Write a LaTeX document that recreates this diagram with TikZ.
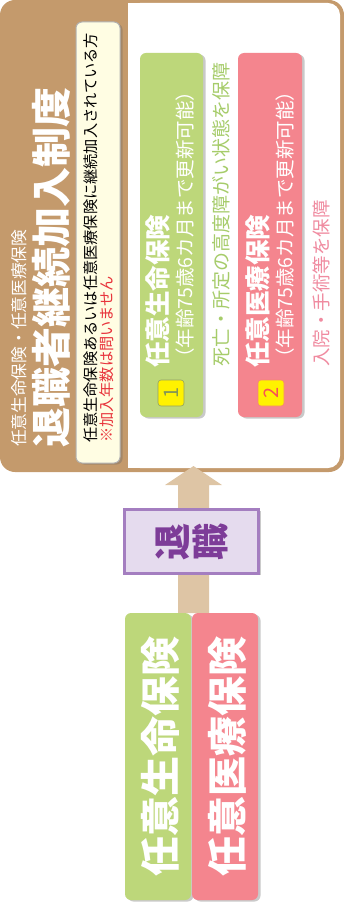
\documentclass[tikz,border=0pt]{standalone}
\usepackage{fontspec}
\newfontfamily\jp{Noto Sans CJK JP}
\usetikzlibrary{shadows}
\definecolor{brownc}{HTML}{C49A6C}
\definecolor{creamc}{HTML}{FFFDE3}
\definecolor{greenc}{HTML}{BDD77A}
\definecolor{pinkc}{HTML}{F4858E}
\definecolor{greentxt}{HTML}{A6CC6A}
\definecolor{pinktxt}{HTML}{F08BA0}
\definecolor{arrowc}{HTML}{DEC5A5}
\definecolor{lavc}{HTML}{E5DBEE}
\definecolor{lavborder}{HTML}{A47EC0}
\definecolor{purpletxt}{HTML}{7D3C98}
\definecolor{badgey}{HTML}{FFF200}
\definecolor{redtxt}{HTML}{E8343C}
\tikzset{
  vtext/.style={rotate=90, inner sep=0pt, anchor=west, font=\jp},
  shadowed/.style={drop shadow={shadow xshift=2.5pt, shadow yshift=-1.5pt, opacity=0.35, fill=black!60}},
  insbox/.style={rounded corners=6pt, shadowed},
  badge/.style={rounded corners=3pt, fill=badgey, inner sep=0pt, minimum width=26pt, minimum height=26pt, rotate=90, font=\jp\fontsize{20}{20}\selectfont},
}
\begin{document}
\begin{tikzpicture}[x=1pt,y=-1pt]
\useasboundingbox (0,0) rectangle (344,917);
% top panel
\fill[brownc, rounded corners=15pt] (0,0) rectangle (344,472);
\fill[white, rounded corners=12pt] (128,3) rectangle (340,468);
\fill[white] (128,3) rectangle (150,468);
\node[vtext, text=white, font=\jp\fontsize{16.7}{17}\selectfont] (sub) at (19,447) {任意生命保険・任意医療保険};
\node[vtext, text=white, font=\jp\bfseries\fontsize{40}{40}\selectfont] (title) at (51,448) {退職者継続加入制度};
\node[draw=black!30, line width=1pt, fill=creamc, rounded corners=6pt, minimum width=441pt, minimum height=44pt, rotate=90, shadowed] (cream) at (98,242.5) {};
\node[vtext, text=black, font=\jp\fontsize{15.2}{15}\selectfont] (cond) at (91,443) {任意生命保険あるいは任意医療保険に継続加入されている方};
\node[vtext, text=redtxt, font=\jp\fontsize{15.2}{15}\selectfont] (note) at (107,443) {※加入年数は問いません};
% inner boxes
\fill[greenc, insbox] (140,53) rectangle (203,417);
\fill[pinkc, insbox] (238,53) rectangle (302,417);
\node[badge, draw=greenc!70!black!90, line width=0.6pt, text=greenc!70!black] (b1) at (171,393) {1};
\node[badge, draw=pinkc!80!orange, line width=0.6pt, text=pinkc!60!red] (b2) at (271,393) {2};
\node[vtext, text=white, font=\jp\bfseries\fontsize{25.5}{26}\selectfont] (t1) at (158,368) {任意生命保険};
\node[vtext, text=white, font=\jp\fontsize{19.5}{20}\selectfont] (s1) at (185,368) {（年齢75歳6カ月まで更新可能）};
\node[vtext, text=greentxt, font=\jp\fontsize{19}{19}\selectfont] (d1) at (221,367) {死亡・所定の高度障がい状態を保障};
\node[vtext, text=white, font=\jp\bfseries\fontsize{25.5}{26}\selectfont] (t2) at (258,368) {任意医療保険};
\node[vtext, text=white, font=\jp\fontsize{19.5}{20}\selectfont] (s2) at (285,368) {（年齢75歳6カ月まで更新可能）};
\node[vtext, text=pinktxt, font=\jp\fontsize{18.5}{19}\selectfont] (d2) at (321,367) {入院・手術等を保障};
% arrow
\coordinate (atip) at (193.5,466);
\fill[arrowc] (178,613) -- (178,485) -- (165,485) -- (atip) -- (222,485) -- (209,485) -- (209,613) -- cycle;
% retire box
\node[draw=lavborder, line width=2.5pt, fill=lavc, minimum width=134pt, minimum height=64pt, shadowed, inner sep=0pt] (retire) at (191.5,541.5) {};
\node[rotate=90, inner sep=0pt, text=purpletxt, font=\jp\bfseries\fontsize{37}{37}\selectfont] (r1) at ([xshift=-18.5pt]retire.center) {退};
\node[rotate=90, inner sep=0pt, text=purpletxt, font=\jp\bfseries\fontsize{37}{37}\selectfont] (r2) at ([xshift=18.5pt]retire.center) {職};
% bottom boxes
\fill[greenc, insbox] (125,613) rectangle (191,900);
\fill[pinkc, insbox] (192,613) rectangle (258,900);
\node[vtext, text=white, font=\jp\bfseries\fontsize{40}{40}\selectfont] (bg) at (160,877) {任意生命保険};
\node[vtext, text=white, font=\jp\bfseries\fontsize{40}{40}\selectfont] (bp) at (227,877) {任意医療保険};
\end{tikzpicture}
\end{document}
